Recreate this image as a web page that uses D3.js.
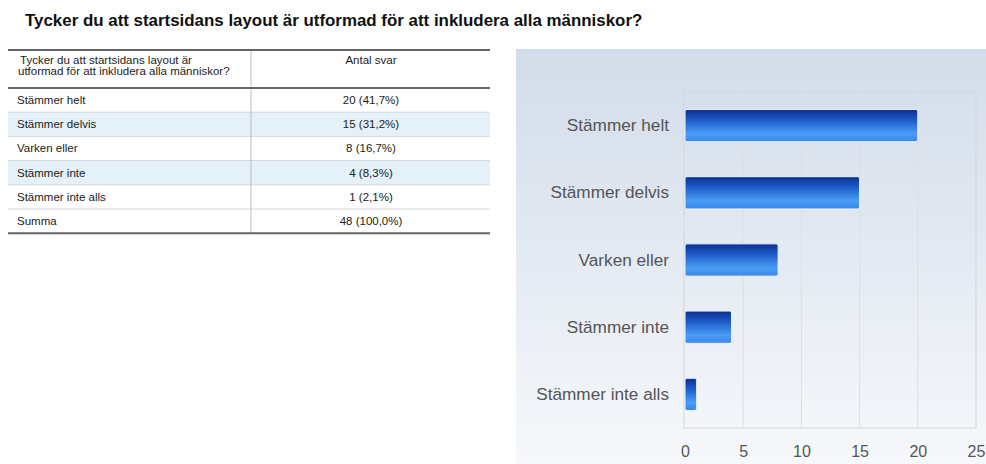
<!DOCTYPE html>
<meta charset="utf-8">
<style>
body {
  margin: 0;
  padding: 0;
  background: #fff;
}
svg text {
  font-family: "Liberation Sans", Arial, sans-serif;
}
</style>
<body>
<script src="https://d3js.org/d3.v7.min.js"></script>
<script>

var title = "Tycker du att startsidans layout är utformad för att inkludera alla människor?";
var headerLines = ["Tycker du att startsidans layout är", "utformad för att inkludera alla människor?"];
var valueHeader = "Antal svar";
var categories = ["Stämmer helt", "Stämmer delvis", "Varken eller", "Stämmer inte", "Stämmer inte alls"];
var counts = [20, 15, 8, 4, 1];
var percents = ["41,7%", "31,2%", "16,7%", "8,3%", "2,1%"];
var totalLabel = "Summa";
var totalText = "48 (100,0%)";
var xTicks = [0, 5, 10, 15, 20, 25];

var width = 986,
    height = 464;

var svg = d3.select("body").append("svg")
    .attr("width", width)
    .attr("height", height);

var defs = svg.append("defs");

// panel background
var bg = defs.append("linearGradient")
    .attr("id", "panelBg")
    .attr("x1", 0).attr("y1", 0).attr("x2", 0).attr("y2", 1);
bg.append("stop").attr("offset", "0%").attr("stop-color", "#d2dcea");
bg.append("stop").attr("offset", "100%").attr("stop-color", "#f6f8fb");

// glossy bar
var bar = defs.append("linearGradient")
    .attr("id", "barFill")
    .attr("x1", 0).attr("y1", 0).attr("x2", 0).attr("y2", 1);
bar.append("stop").attr("offset", "0%").attr("stop-color", "#0a2f8f");
bar.append("stop").attr("offset", "35%").attr("stop-color", "#1f5fcc");
bar.append("stop").attr("offset", "75%").attr("stop-color", "#4a9df5");
bar.append("stop").attr("offset", "100%").attr("stop-color", "#3a86e6");

// title
svg.append("text")
    .attr("x", 25)
    .attr("y", 26)
    .style("font-size", "16.9px")
    .style("font-weight", "bold")
    .style("fill", "#111")
    .text(title);

// ---- table ----
var tbl = svg.append("g");
var tLeft = 8, tRight = 490, tDiv = 251;
var rowTop = 88, rowH = 24.2;
var fs = "11.5px";

var rows = categories.map(function(c, i) {
  return {label: c, value: counts[i] + " (" + percents[i] + ")"};
});
rows.push({label: totalLabel, value: totalText});

tbl.selectAll("rect.row")
  .data(rows)
  .enter().append("rect")
    .attr("x", tLeft)
    .attr("y", function(d, i) { return rowTop + i * rowH; })
    .attr("width", tRight - tLeft)
    .attr("height", rowH)
    .style("fill", function(d, i) { return (i === 1 || i === 3) ? "#e5f1f8" : "#fff"; });

tbl.selectAll("line.rowline")
  .data(rows.slice(1))
  .enter().append("line")
    .attr("x1", tLeft).attr("x2", tRight)
    .attr("y1", function(d, i) { return rowTop + (i + 1) * rowH; })
    .attr("y2", function(d, i) { return rowTop + (i + 1) * rowH; })
    .style("stroke", "#d4d8dc")
    .style("stroke-width", 1);

tbl.selectAll("text.lab")
  .data(rows)
  .enter().append("text")
    .attr("x", 17)
    .attr("y", function(d, i) { return rowTop + i * rowH + 16; })
    .style("font-size", fs)
    .style("fill", "#222")
    .text(function(d) { return d.label; });

tbl.selectAll("text.val")
  .data(rows)
  .enter().append("text")
    .attr("x", 371)
    .attr("y", function(d, i) { return rowTop + i * rowH + 16; })
    .attr("text-anchor", "middle")
    .style("font-size", fs)
    .style("fill", "#222")
    .text(function(d) { return d.value; });

tbl.selectAll("text.head")
  .data(headerLines)
  .enter().append("text")
    .attr("x", function(d, i) { return i ? 18 : 20; })
    .attr("y", function(d, i) { return 64 + i * 10.5; })
    .style("font-size", fs)
    .style("fill", "#222")
    .text(function(d) { return d; });

tbl.append("text")
    .attr("x", 371)
    .attr("y", 64)
    .attr("text-anchor", "middle")
    .style("font-size", fs)
    .style("fill", "#222")
    .text(valueHeader);

var tBottom = rowTop + rows.length * rowH;
tbl.append("line")
    .attr("x1", tDiv).attr("x2", tDiv)
    .attr("y1", 50).attr("y2", tBottom)
    .style("stroke", "#bbb");

[50, rowTop, tBottom].forEach(function(y) {
  tbl.append("line")
      .attr("x1", tLeft).attr("x2", tRight)
      .attr("y1", y).attr("y2", y)
      .style("stroke", "#666")
      .style("stroke-width", 2);
});

// ---- bar chart ----
svg.append("rect")
    .attr("x", 516)
    .attr("y", 49)
    .attr("width", width - 516)
    .attr("height", height - 49)
    .style("fill", "url(#panelBg)");

var plot = {left: 685, right: 976, top: 92, bottom: 428};

var x = d3.scaleLinear()
    .domain([0, 25])
    .range([plot.left, plot.right]);

var y = d3.scaleBand()
    .domain(categories)
    .range([plot.top, plot.bottom])
    .paddingInner(0.52)
    .paddingOuter(0.26);

var g = svg.append("g");

g.append("rect")
    .attr("x", plot.left - 1)
    .attr("y", plot.top)
    .attr("width", plot.right - plot.left + 1)
    .attr("height", plot.bottom - plot.top)
    .style("fill", "none")
    .style("stroke", "#d3d6db");

g.selectAll("line.grid")
  .data(xTicks.slice(1, -1))
  .enter().append("line")
    .attr("x1", function(d) { return x(d); })
    .attr("x2", function(d) { return x(d); })
    .attr("y1", plot.top)
    .attr("y2", plot.bottom)
    .style("stroke", "#dcdfe4");

g.selectAll("rect.bar")
  .data(counts)
  .enter().append("rect")
    .attr("x", x(0))
    .attr("y", function(d, i) { return y(categories[i]); })
    .attr("width", function(d) { return x(d) - x(0); })
    .attr("height", y.bandwidth())
    .attr("rx", 2)
    .style("fill", "url(#barFill)")
    .style("stroke", "#eef3fb")
    .style("stroke-width", 1);

var xAxis = g.append("g")
    .attr("transform", "translate(0," + (plot.bottom + 8) + ")")
    .call(d3.axisBottom(x).tickValues(xTicks).tickSize(0).tickPadding(10));
xAxis.select(".domain").remove();
xAxis.selectAll("text")
    .style("font-size", "16px")
    .style("fill", "#555");

var yAxis = g.append("g")
    .attr("transform", "translate(" + (plot.left - 16) + ",0)")
    .call(d3.axisLeft(y).tickSize(0).tickPadding(0));
yAxis.select(".domain").remove();
yAxis.selectAll("text")
    .style("font-size", "17.2px")
    .style("fill", "#555");

</script>
